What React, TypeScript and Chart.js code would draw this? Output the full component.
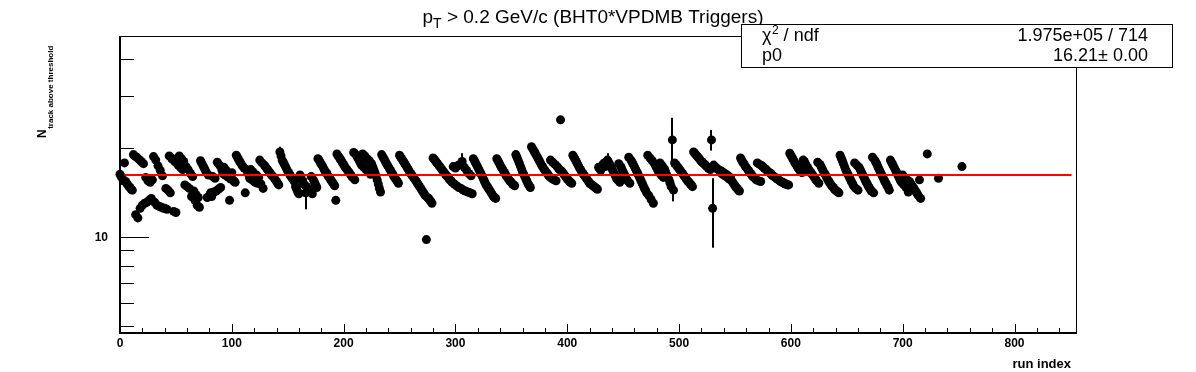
import React, { useEffect, useRef } from "react";
import { Chart, registerables } from "chart.js";

Chart.register(...registerables);

// N_track above threshold per run index (index = position in array, runs 0..716)
const nTrack: number[] = [
  16.3, 16.0, 15.8, 15.5, 17.8, 15.4, 15.2, 15.0, 14.8, 14.7,
  14.5, 14.4, 19.0, 18.8, 11.9, 18.6, 11.6, 18.3, 12.5, 18.0,
  12.8, 17.7, 13.0, 15.9, 13.1, 15.5, 13.3, 15.3, 13.5, 15.6,
  18.7, 13.1, 18.2, 12.8, 17.4, 12.7, 16.8, 12.6, 16.1, 12.5,
  12.5, 14.6, 12.4, 14.4, 18.8, 14.1, 18.5, 18.3, 12.2, 18.0,
  12.1, 17.7, 17.5, 18.8, 17.2, 18.4, 16.9, 18.0, 15.0, 17.3,
  14.8, 16.9, 14.6, 16.4, 13.7, 16.0, 14.3, 13.3, 13.9, 12.8,
  13.6, 12.6, 18.1, 17.8, 17.5, 17.2, 16.9, 16.6, 13.6, 16.2,
  13.8, 14.1, 13.7, 16.0, 14.2, 15.8, 14.3, 17.9, 14.5, 17.5,
  14.7, 16.9, 16.4, 17.2, 16.2, 16.8, 16.0, 15.9, 13.3, 15.7,
  16.5, 15.6, 15.4, 15.3, 18.9, 18.6, 18.3, 18.0, 17.8, 17.5,
  17.3, 17.1, 14.1, 16.9, 16.6, 16.3, 15.8, 16.9, 15.6, 16.6,
  15.4, 15.3, 16.2, 15.2, 15.9, 18.2, 15.1, 17.8, 14.6, 17.5,
  17.3, 17.1, 16.9, 16.7, 16.5, 16.3, 16.1, 16.0, 15.8, 15.6,
  15.4, 15.2, 15.0, 19.4, 18.8, 18.2, 17.9, 17.6, 17.3, 17.0,
  16.7, 16.5, 16.2, 16.0, 15.8, 15.6, 15.4, 14.8, 14.5, 14.2,
  14.0, 16.2, 15.8, 15.5, 15.2, 15.0, 14.1, 14.8, 14.6, 14.4,
  14.2, 16.0, 14.0, 15.6, 15.3, 15.0, 14.7, 18.4, 18.2, 17.9,
  17.6, 17.4, 17.1, 16.8, 16.6, 16.4, 16.1, 15.9, 15.7, 15.5,
  15.3, 15.1, 14.9, 13.3, 19.1, 18.8, 18.6, 18.3, 18.1, 17.8,
  17.6, 17.3, 17.1, 16.9, 16.7, 16.5, 16.3, 16.1, 15.9, 19.3,
  15.6, 19.0, 18.7, 18.4, 18.1, 17.8, 17.5, 19.1, 17.2, 18.8,
  16.9, 18.4, 16.6, 18.1, 16.3, 17.7, 17.3, 16.9, 16.5, 16.1,
  15.6, 15.1, 14.6, 14.2, 19.0, 18.7, 18.4, 18.1, 17.8, 17.5,
  17.3, 17.0, 16.8, 16.5, 16.3, 16.0, 15.8, 15.6, 15.4, 15.2,
  18.9, 18.6, 18.4, 18.1, 17.9, 17.6, 17.4, 17.1, 16.9, 16.6,
  16.4, 16.2, 16.0, 15.8, 15.6, 15.4, 15.2, 15.0, 14.8, 14.6,
  14.4, 14.2, 14.0, 13.8, 9.8, 13.6, 13.5, 13.3, 13.2, 13.0,
  18.5, 18.3, 18.1, 17.9, 17.7, 17.5, 17.3, 17.1, 16.9, 16.7,
  16.5, 16.3, 16.1, 16.0, 15.8, 15.6, 15.5, 15.3, 17.3, 15.1,
  17.1, 14.9, 17.4, 14.7, 17.6, 14.6, 18.0, 14.4, 17.2, 14.3,
  16.8, 14.2, 16.4, 14.1, 16.1, 14.0, 18.4, 18.1, 17.8, 17.5,
  17.2, 16.9, 16.6, 16.3, 16.0, 15.7, 15.4, 15.1, 14.9, 14.7,
  14.5, 14.3, 14.1, 13.9, 13.7, 13.6, 13.5, 18.4, 18.1, 17.8,
  17.5, 17.2, 17.0, 16.7, 16.5, 16.2, 16.0, 15.8, 15.6, 15.4,
  15.3, 15.1, 15.0, 14.9, 19.0, 18.6, 18.2, 17.8, 17.4, 17.0,
  16.6, 16.3, 16.0, 15.7, 15.4, 15.1, 14.9, 14.7, 20.2, 19.9,
  19.6, 19.3, 19.0, 18.7, 18.4, 18.1, 17.8, 17.5, 17.3, 17.0,
  16.8, 16.6, 16.4, 16.2, 16.0, 18.2, 15.8, 17.9, 15.6, 17.6,
  15.5, 17.3, 17.1, 16.9, 24.9, 16.7, 16.5, 16.3, 16.1, 15.9,
  15.7, 15.6, 15.4, 15.3, 15.2, 18.9, 18.6, 18.3, 18.0, 17.7,
  17.4, 17.1, 16.9, 16.6, 16.4, 16.2, 16.0, 15.8, 15.6, 15.4,
  15.2, 15.1, 15.0, 14.9, 14.8, 14.7, 14.6, 14.5, 17.2, 17.0,
  16.8, 17.4, 17.6, 17.8, 17.3, 17.7, 18.2, 17.9, 17.6, 17.3,
  17.0, 16.7, 16.4, 16.1, 15.8, 15.6, 17.7, 15.3, 17.3, 16.9,
  16.6, 16.3, 16.0, 15.7, 15.5, 18.6, 15.2, 18.2, 17.9, 17.6,
  17.3, 17.0, 16.7, 16.4, 16.1, 15.8, 15.5, 15.2, 14.9, 14.6,
  14.4, 14.1, 18.9, 13.8, 18.5, 13.4, 18.1, 13.0, 17.7, 17.4,
  17.1, 16.8, 16.5, 17.8, 16.2, 17.4, 15.9, 17.0, 16.6, 16.2,
  15.9, 15.6, 15.2, 14.8, 21.3, 14.4, 17.8, 17.6, 17.4, 17.2,
  17.0, 16.8, 16.6, 16.4, 16.2, 16.0, 15.8, 15.6, 15.4, 15.3,
  15.1, 15.0, 14.8, 19.4, 19.2, 19.0, 18.8, 18.6, 18.4, 18.2,
  18.0, 17.9, 17.7, 17.6, 17.4, 17.3, 17.1, 17.0, 16.9, 21.3,
  12.5, 17.5, 17.3, 17.2, 17.0, 16.9, 16.8, 16.5, 16.7, 16.3,
  16.5, 16.1, 16.3, 15.9, 16.1, 15.7, 15.9, 15.5, 15.3, 15.1,
  14.9, 14.7, 14.6, 14.4, 14.3, 18.5, 18.2, 17.9, 17.7, 17.4,
  17.2, 17.0, 16.8, 16.6, 16.4, 16.2, 16.0, 15.9, 15.8, 15.6,
  17.8, 15.5, 17.6, 15.4, 17.4, 17.3, 17.1, 17.0, 16.9, 16.7,
  16.6, 16.5, 16.4, 16.2, 16.1, 16.0, 15.9, 15.8, 15.7, 15.6,
  15.5, 15.4, 15.3, 15.3, 15.2, 15.1, 15.1, 15.0, 15.0, 19.2,
  18.9, 18.6, 18.3, 18.0, 17.7, 17.5, 17.2, 17.0, 16.8, 16.6,
  16.5, 18.2, 18.0, 17.7, 17.4, 17.2, 16.9, 16.7, 16.5, 16.3,
  16.1, 15.9, 15.7, 15.5, 17.9, 15.2, 17.6, 17.3, 17.0, 16.7,
  16.4, 16.2, 15.9, 15.6, 15.4, 15.2, 15.0, 14.8, 14.7, 14.5,
  14.4, 14.3, 14.2, 14.1, 18.9, 18.5, 18.1, 17.7, 17.3, 16.9,
  16.6, 16.3, 16.0, 15.7, 15.4, 15.2, 14.9, 17.8, 14.6, 17.5,
  14.4, 17.2, 16.9, 16.6, 16.3, 16.0, 15.7, 15.4, 15.2, 14.9,
  14.7, 14.5, 14.3, 18.6, 14.1, 18.2, 17.9, 17.6, 17.2, 16.9,
  16.6, 16.3, 16.0, 15.7, 15.4, 15.2, 14.9, 14.7, 14.4, 18.2,
  17.9, 17.6, 17.3, 17.0, 16.7, 16.4, 16.1, 15.8, 15.5, 15.3,
  16.2, 15.0, 15.9, 14.7, 15.6, 14.2, 15.4, 15.2, 15.0, 14.8,
  14.6, 14.4, 14.2, 14.0, 13.8, 15.6, 13.5,
];

// Sparse runs at the end of the range
const lateRuns = [722, 732, 753];
const lateValues = [19.1, 15.8, 17.3];

// Runs with a visible error bar, and the size of that error
const errRuns = [4, 143, 166, 306, 436, 494, 495, 529, 530];
const errSizes = [0.5, 0.8, 1.7, 1.2, 1.0, 4.0, 1.2, 1.7, 3.3];

// Constant fit
const fitValue = 16.21;
const fitRange = [4, 851];

// Axes
const xRange = [0, 855];
const yRange = [4.733, 47.47];
const xMajorTicks = [0, 100, 200, 300, 400, 500, 600, 700, 800];
const xTickLabels = ["0", "100", "200", "300", "400", "500", "600", "700", "800"];
const yMajorTicks = [10];
const yTickLabels = ["10"];
const yMinorTicks = [5, 6, 7, 8, 9, 20, 30, 40];

// Texts
const titleMain = "p";
const titleSub = "T";
const titleRest = " > 0.2 GeV/c (BHT0*VPDMB Triggers)";
const yTitleMain = "N";
const yTitleSub = "track above threshold";
const xTitle = "run index";
const statRows = [
  ["\u03C7", "2", " / ndf", "1.975e+05 / 714"],
  ["p0", "", "", "16.21\u00B1 0.00"],
];

const FONT = "'Liberation Sans', Arial, Helvetica, sans-serif";

const rootStyle = {
  id: "rootStyle",
  beforeDatasetsDraw(chart: any) {
    const ctx = chart.ctx;
    const xs = chart.scales.x;
    const ys = chart.scales.y;
    ctx.save();
    ctx.fillStyle = "#000";
    errRuns.forEach((r, i) => {
      const v = r < nTrack.length ? nTrack[r] : null;
      if (v == null) return;
      const x = Math.round(xs.getPixelForValue(r));
      const y1 = ys.getPixelForValue(v + errSizes[i]);
      const y2 = ys.getPixelForValue(v - errSizes[i]);
      ctx.fillRect(x - 1, y1, 2, y2 - y1);
    });
    ctx.restore();
  },
  afterDraw(chart: any) {
    const ctx = chart.ctx;
    const xs = chart.scales.x;
    const ys = chart.scales.y;
    const { left, right, top, bottom } = chart.chartArea;
    ctx.save();
    ctx.fillStyle = "#000";
    // frame
    ctx.fillRect(left - 1, top - 1, right - left + 2, 1);
    ctx.fillRect(right, top - 1, 1, bottom - top + 2);
    ctx.fillRect(left - 1, top - 1, 2, bottom - top + 2);
    ctx.fillRect(left - 1, bottom - 1, right - left + 2, 2);
    // y ticks (inside)
    yMinorTicks.forEach((v) => {
      const y = Math.round(ys.getPixelForValue(v));
      ctx.fillRect(left, y, 14, 1);
    });
    yMajorTicks.forEach((v) => {
      const y = Math.round(ys.getPixelForValue(v));
      ctx.fillRect(left, y, 29, 1);
    });
    // x ticks (inside)
    for (let v = 0; v <= 840; v += 20) {
      const x = Math.round(xs.getPixelForValue(v));
      const len = v % 100 === 0 ? 9 : 5;
      ctx.fillRect(x, bottom - len, 1, len);
    }
    // tick labels
    ctx.font = "bold 12px " + FONT;
    ctx.textBaseline = "alphabetic";
    ctx.textAlign = "center";
    xMajorTicks.forEach((v, i) => {
      ctx.fillText(xTickLabels[i], xs.getPixelForValue(v), 347);
    });
    ctx.textAlign = "right";
    yMajorTicks.forEach((v, i) => {
      ctx.fillText(yTickLabels[i], 108, ys.getPixelForValue(v) + 4.5);
    });
    // x title
    ctx.font = "bold 13px " + FONT;
    ctx.textAlign = "right";
    ctx.fillText(xTitle, 1071, 368);
    // y title (rotated)
    ctx.save();
    ctx.translate(46, 138);
    ctx.rotate(-Math.PI / 2);
    ctx.textAlign = "left";
    ctx.font = "bold 12px " + FONT;
    ctx.fillText(yTitleMain, 0, 0);
    const nw = ctx.measureText(yTitleMain).width;
    ctx.font = "bold 8px " + FONT;
    ctx.fillText(yTitleSub, nw + 0.5, 6.5);
    ctx.restore();
    // title (centred)
    ctx.textAlign = "left";
    ctx.font = "19px " + FONT;
    const w1 = ctx.measureText(titleMain).width;
    const w3 = ctx.measureText(titleRest).width;
    ctx.font = "14px " + FONT;
    const w2 = ctx.measureText(titleSub).width;
    let tx = 593 - (w1 + w2 + w3) / 2;
    ctx.font = "19px " + FONT;
    ctx.fillText(titleMain, tx, 23);
    tx += w1;
    ctx.font = "14px " + FONT;
    ctx.fillText(titleSub, tx, 28);
    tx += w2;
    ctx.font = "19px " + FONT;
    ctx.fillText(titleRest, tx, 23);
    // stats box
    ctx.fillStyle = "#fff";
    ctx.fillRect(742, 24, 431, 44);
    ctx.strokeStyle = "#000";
    ctx.lineWidth = 1;
    ctx.strokeRect(741.5, 24.5, 431, 43);
    ctx.fillStyle = "#000";
    statRows.forEach((row, i) => {
      const base = 41 + i * 20;
      let sx = 762;
      ctx.textAlign = "left";
      ctx.font = "18px " + FONT;
      ctx.fillText(row[0], sx, base);
      sx += ctx.measureText(row[0]).width;
      if (row[1]) {
        ctx.font = "12px " + FONT;
        ctx.fillText(row[1], sx + 0.5, base - 7);
        sx += ctx.measureText(row[1]).width + 0.5;
      }
      if (row[2]) {
        ctx.font = "18px " + FONT;
        ctx.fillText(row[2], sx, base);
      }
      ctx.font = "18px " + FONT;
      ctx.textAlign = "right";
      ctx.fillText(row[3], 1148, base);
    });
    ctx.restore();
  },
};

export default function App() {
  const canvasRef = useRef<HTMLCanvasElement | null>(null);

  useEffect(() => {
    document.body.style.margin = "0";
    const canvas = canvasRef.current;
    if (!canvas) return;
    const points = nTrack.map((v, i) => ({ x: i, y: v }));
    lateRuns.forEach((r, i) => points.push({ x: r, y: lateValues[i] }));
    const chart = new Chart(canvas, {
      type: "scatter",
      data: {
        datasets: [
          {
            label: "fit",
            data: [
              { x: fitRange[0], y: fitValue },
              { x: fitRange[1], y: fitValue },
            ],
            showLine: true,
            borderColor: "#ff0000",
            borderWidth: 2,
            pointRadius: 0,
            order: 0,
          } as any,
          {
            label: "runs",
            data: points,
            backgroundColor: "#000",
            borderWidth: 0,
            pointRadius: 4.5,
            pointHoverRadius: 4.5,
            clip: false,
            order: 1,
          } as any,
        ],
      },
      options: {
        responsive: false,
        animation: false,
        devicePixelRatio: 1,
        events: [],
        layout: { padding: { left: 120, top: 37, right: 120, bottom: 39 } },
        plugins: {
          legend: { display: false },
          tooltip: { enabled: false },
          title: { display: false },
        },
        scales: {
          x: { type: "linear", display: false, min: xRange[0], max: xRange[1], bounds: "data" },
          y: { type: "logarithmic", display: false, min: yRange[0], max: yRange[1], bounds: "data" },
        },
      } as any,
      plugins: [rootStyle],
    });
    return () => chart.destroy();
  }, []);

  return (
    <div style={{ position: "fixed", left: 0, top: 0, width: 1196, height: 372, background: "#fff" }}>
      <canvas ref={canvasRef} width={1196} height={372} />
    </div>
  );
}
